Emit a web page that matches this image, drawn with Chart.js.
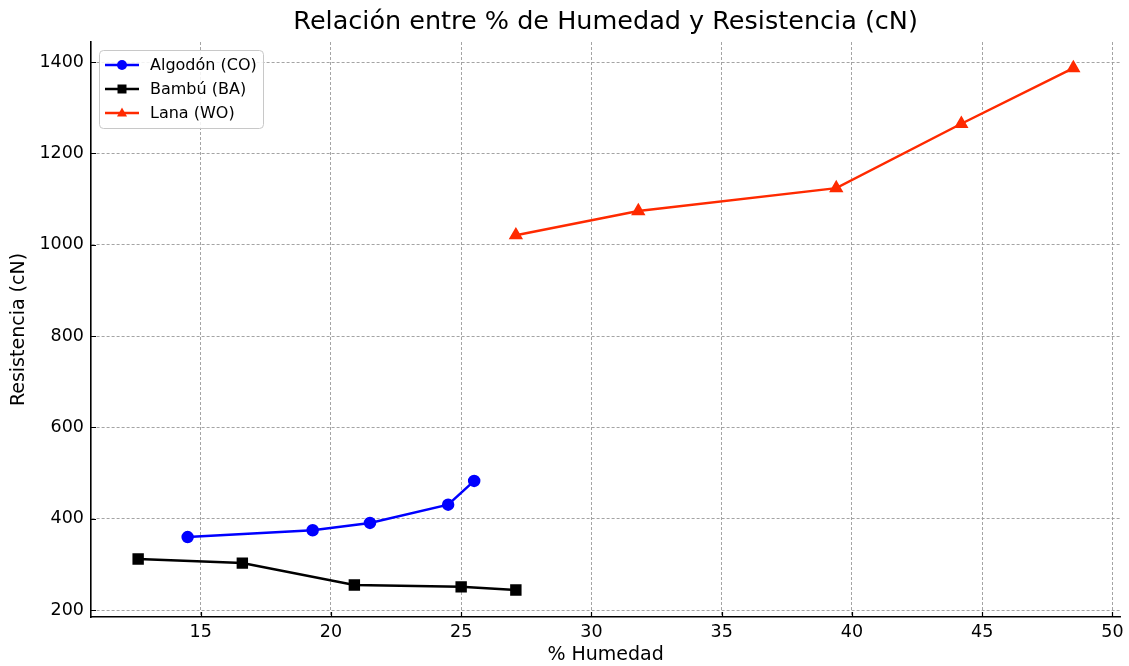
<!DOCTYPE html>
<html>
<head>
<meta charset="utf-8">
<script src="https://cdn.jsdelivr.net/npm/chart.js@4/dist/chart.umd.min.js"></script>
<style>
  body { margin: 0; background: #fff; }
  canvas { display: block; }
</style>
</head>
<body>
<canvas id="chart" width="1129" height="666"></canvas>
<script>
// % humedad vs resistencia (cN)
const algodonX = [14.5, 19.3, 21.5, 24.5, 25.5];
const algodonY = [360, 375, 391, 431, 483];
const bambuX = [12.6, 16.6, 20.9, 25.0, 27.1];
const bambuY = [312, 303, 255, 251, 244];
const lanaX = [27.1, 31.8, 39.4, 44.2, 48.5];
const lanaY = [1021, 1074, 1124, 1265, 1387];

const xTicks = [15, 20, 25, 30, 35, 40, 45, 50];
const yTicks = [200, 400, 600, 800, 1000, 1200, 1400];

const FONT = 'DejaVu Sans';

function toPoints(xs, ys) {
  return xs.map((x, i) => ({ x, y: ys[i] }));
}

// matplotlib-like ticks pointing into the axes
const innerTicks = {
  id: 'innerTicks',
  afterDraw(chart) {
    const { ctx, chartArea, scales } = chart;
    ctx.save();
    ctx.strokeStyle = '#000';
    ctx.lineWidth = 1.2;
    ctx.beginPath();
    xTicks.forEach(v => {
      const px = Math.round(scales.x.getPixelForValue(v)) + 0.5;
      ctx.moveTo(px, chartArea.bottom);
      ctx.lineTo(px, chartArea.bottom - 5);
    });
    yTicks.forEach(v => {
      const py = Math.round(scales.y.getPixelForValue(v)) + 0.5;
      ctx.moveTo(chartArea.left, py);
      ctx.lineTo(chartArea.left + 5, py);
    });
    ctx.stroke();
    ctx.restore();
  }
};

function drawMarker(ctx, style, x, y) {
  ctx.beginPath();
  if (style === 'circle') {
    ctx.arc(x, y, 5, 0, Math.PI * 2);
  } else if (style === 'rect') {
    ctx.rect(x - 4.5, y - 4.5, 9, 9);
  } else {
    ctx.moveTo(x, y - 5.5);
    ctx.lineTo(x + 5, y + 3.5);
    ctx.lineTo(x - 5, y + 3.5);
    ctx.closePath();
  }
  ctx.fill();
}

// legend box in the upper left corner of the plot
const boxLegend = {
  id: 'boxLegend',
  afterDraw(chart) {
    const { ctx, chartArea } = chart;
    const left = chartArea.left + 8, top = chartArea.top + 8;
    const w = 164, h = 78;
    ctx.save();
    ctx.fillStyle = 'rgba(255,255,255,0.85)';
    ctx.strokeStyle = '#c8c8c8';
    ctx.lineWidth = 1;
    ctx.beginPath();
    ctx.roundRect(left + 0.5, top + 0.5, w, h, 4);
    ctx.fill();
    ctx.stroke();
    ctx.font = '16px "' + FONT + '"';
    ctx.textBaseline = 'middle';
    chart.data.datasets.forEach((ds, i) => {
      const y = top + 15 + i * 24;
      ctx.strokeStyle = ds.borderColor;
      ctx.lineWidth = 2.5;
      ctx.beginPath();
      ctx.moveTo(left + 6, y);
      ctx.lineTo(left + 40, y);
      ctx.stroke();
      ctx.fillStyle = ds.pointBackgroundColor;
      drawMarker(ctx, ds.pointStyle, left + 23, y);
      ctx.fillStyle = '#000';
      ctx.fillText(ds.label, left + 51, y + 1);
    });
    ctx.restore();
  }
};

new Chart(document.getElementById('chart'), {
  type: 'line',
  data: {
    datasets: [
      {
        label: 'Algodón (CO)',
        data: toPoints(algodonX, algodonY),
        borderColor: '#0000ff',
        backgroundColor: '#0000ff',
        pointBackgroundColor: '#0000ff',
        pointBorderColor: '#0000ff',
        pointStyle: 'circle',
        pointRadius: 5,
        borderWidth: 2.5
      },
      {
        label: 'Bambú (BA)',
        data: toPoints(bambuX, bambuY),
        borderColor: '#000000',
        backgroundColor: '#000000',
        pointBackgroundColor: '#000000',
        pointBorderColor: '#000000',
        pointStyle: 'rect',
        pointRadius: 6.3,
        borderWidth: 2.5
      },
      {
        label: 'Lana (WO)',
        data: toPoints(lanaX, lanaY),
        borderColor: '#ff2a00',
        backgroundColor: '#ff2a00',
        pointBackgroundColor: '#ff2a00',
        pointBorderColor: '#ff2a00',
        pointStyle: 'triangle',
        pointRadius: 5.8,
        borderWidth: 2.5
      }
    ]
  },
  options: {
    responsive: false,
    animation: false,
    layout: { padding: { left: 0, right: 0, top: 0, bottom: 0 } },
    elements: { line: { tension: 0 }, point: { borderWidth: 0, hoverRadius: 5 } },
    plugins: {
      legend: { display: false },
      tooltip: { enabled: false },
      title: {
        display: true,
        fullSize: false,
        text: 'Relación entre % de Humedad y Resistencia (cN)',
        color: '#000',
        font: { family: FONT, size: 25.5, weight: 'normal' },
        padding: { top: 7, bottom: 4.4 }
      }
    },
    scales: {
      x: {
        type: 'linear',
        min: 10.79,
        max: 50.3,
        afterBuildTicks: s => { s.ticks = xTicks.map(v => ({ value: v })); },
        afterFit: s => { s.height = 49; },
        ticks: { color: '#000', padding: 5, font: { family: FONT, size: 17.5 } },
        grid: { color: '#9a9a9a', lineWidth: 0.9, drawTicks: false },
        border: { display: true, color: '#000', width: 1.6, dash: [3, 2] },
        title: {
          display: true,
          text: '% Humedad',
          color: '#000',
          font: { family: FONT, size: 19 },
          padding: { top: 2, bottom: 0 }
        }
      },
      y: {
        type: 'linear',
        min: 185,
        max: 1444,
        afterBuildTicks: s => { s.ticks = yTicks.map(v => ({ value: v })); },
        afterFit: s => { s.width = 91; },
        ticks: {
          color: '#000',
          padding: 7,
          font: { family: FONT, size: 17.5 },
          callback: v => String(v)
        },
        grid: { color: '#9a9a9a', lineWidth: 0.9, drawTicks: false },
        border: { display: true, color: '#000', width: 1.6, dash: [3, 2] },
        title: {
          display: true,
          text: 'Resistencia (cN)',
          color: '#000',
          font: { family: FONT, size: 19 },
          padding: { top: 8, bottom: 2 }
        }
      }
    }
  },
  plugins: [innerTicks, boxLegend]
});
</script>
</body>
</html>
